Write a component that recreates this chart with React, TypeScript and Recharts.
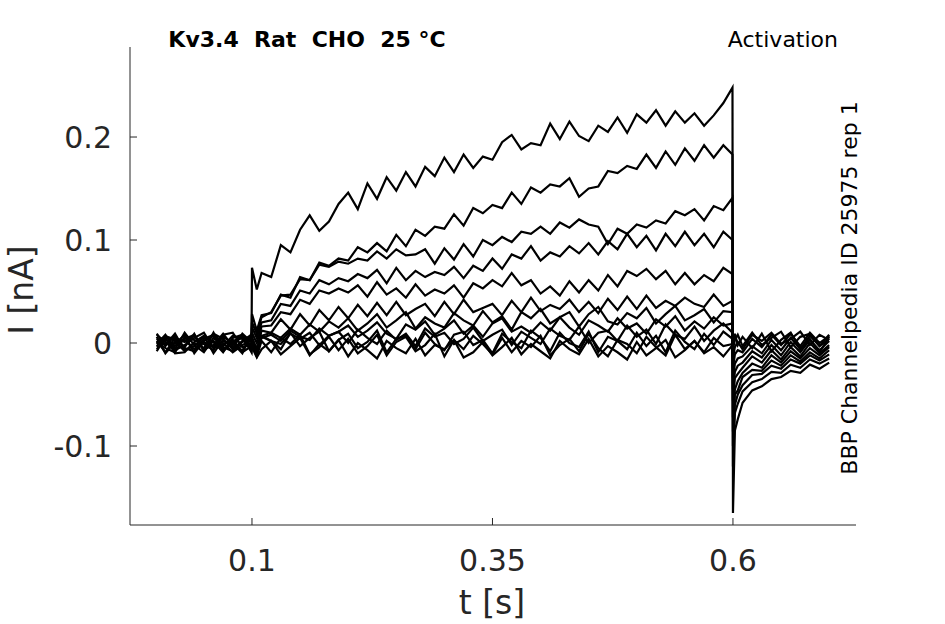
import { LineChart, Line, XAxis, YAxis, Customized } from "recharts"

// time points (s)
const times = [
  0.001, 0.01, 0.02, 0.03, 0.04, 0.05, 0.06, 0.07, 0.08, 0.09, 0.0995,
  0.1, 0.105, 0.11, 0.12, 0.13, 0.14, 0.15, 0.16, 0.17, 0.18, 0.19,
  0.2, 0.21, 0.22, 0.23, 0.24, 0.25, 0.26, 0.27, 0.28, 0.29,
  0.3, 0.31, 0.32, 0.33, 0.34, 0.35, 0.36, 0.37, 0.38, 0.39,
  0.4, 0.41, 0.42, 0.43, 0.44, 0.45, 0.46, 0.47, 0.48, 0.49,
  0.5, 0.51, 0.52, 0.53, 0.54, 0.55, 0.56, 0.57, 0.58, 0.59, 0.5995,
  0.6, 0.602, 0.605, 0.61, 0.62, 0.63, 0.64, 0.65, 0.66, 0.67, 0.68, 0.69, 0.7,
]

// sweeps, current in pA
const sweepA = [
  4, -2, 9, -7, -3, 6, 1, -9, 5, 8, -4,
  73, 52, 68, 64, 95, 88, 110, 124, 109, 118, 135,
  146, 130, 155, 140, 161, 148, 166, 152, 171, 162,
  180, 166, 183, 170, 181, 178, 195, 202, 188, 194,
  192, 213, 198, 215, 201, 196, 211, 205, 219, 204,
  222, 214, 226, 211, 225, 214, 223, 211, 221, 233, 248,
  -165, -85, -74, -58, -46, -42, -35, -33, -27, -29, -21, -25, -19,
]
const sweepB = [
  -6, 3, -1, 8, -10, 2, 7, -4, -8, 1, 6,
  28, 12, 27, 29, 47, 44, 64, 61, 78, 75, 82,
  80, 93, 88, 97, 89, 105, 94, 110, 104, 113,
  111, 125, 114, 131, 126, 134, 131, 146, 135, 151,
  146, 154, 152, 160, 142, 150, 152, 167, 165, 172,
  169, 183, 170, 186, 173, 189, 177, 192, 180, 192, 183,
  -120, -68, -59, -47, -38, -35, -28, -29, -21, -24, -16, -20, -15,
]
const sweepC = [
  2, -9, 5, 1, 7, -6, -2, 9, -3, -7, 4,
  20, 9, 25, 30, 46, 47, 62, 61, 76, 74, 79,
  77, 82, 80, 89, 82, 91, 85, 86, 91, 77,
  92, 81, 96, 84, 100, 95, 103, 98, 108, 106,
  113, 106, 117, 112, 120, 115, 113, 96, 111, 106,
  115, 112, 119, 116, 128, 124, 130, 119, 133, 129, 141,
  -100, -60, -50, -41, -31, -30, -22, -25, -16, -20, -12, -17, -11,
]
const sweepD = [
  8, 1, -7, -2, 5, 10, -5, -1, 3, -9, -3,
  15, 5, 20, 22, 38, 36, 51, 48, 61, 57, 63,
  60, 67, 63, 71, 58, 73, 61, 70, 64, 69,
  66, 74, 63, 75, 70, 82, 72, 86, 82, 94,
  80, 88, 84, 94, 87, 97, 86, 99, 91, 106,
  93, 104, 90, 106, 94, 108, 95, 106, 93, 108, 100,
  -86, -50, -46, -33, -26, -27, -17, -22, -12, -18, -9, -15, -7,
]
const sweepE = [
  -3, 7, 2, -8, 0, -5, 9, 4, -6, 2, 8,
  10, 0, 16, 17, 30, 28, 42, 38, 51, 48, 53,
  49, 56, 45, 59, 47, 53, 44, 57, 46, 52,
  48, 56, 44, 58, 53, 61, 55, 68, 56, 61,
  48, 55, 46, 60, 49, 61, 51, 66, 55, 70,
  65, 72, 62, 70, 57, 68, 57, 66, 60, 73, 67,
  -72, -45, -37, -29, -20, -24, -12, -19, -8, -15, -5, -12, -4,
]
const sweepF = [
  1, -5, -9, 6, 3, -1, -7, 8, 10, -4, -1,
  6, -6, 12, 10, 23, 13, 28, 17, 32, 22, 35,
  24, 37, 26, 39, 27, 40, 27, 33, 38, 26,
  40, 28, 42, 30, 34, 38, 27, 41, 30, 44,
  31, 37, 33, 42, 30, 40, 29, 43, 32, 45,
  33, 46, 34, 41, 36, 44, 38, 35, 47, 36, 41,
  -56, -34, -30, -24, -13, -19, -7, -16, -4, -13, 0, -10, -2,
]
const sweepG = [
  -8, 6, 4, -4, 9, -8, 2, -6, -1, 7, -9,
  4, -8, 7, 10, 5, 14, 8, 18, 11, 21, 15,
  24, 12, 19, 28, 15, 22, 30, 14, 25, 19,
  15, 29, 22, 17, 31, 20, 26, 13, 30, 24,
  33, 19, 25, 30, 16, 28, 35, 21, 18, 29,
  24, 34, 19, 28, 36, 22, 27, 33, 20, 31, 30,
  -45, -28, -22, -19, -8, -14, -2, -12, 1, -9, 3, -7, 2,
]
const sweepH = [
  6, -10, 1, 3, -6, 4, 8, 0, -9, -2, 3,
  2, -9, 5, 8, 2, 12, 6, 3, 14, 7, 11,
  17, 6, 12, 20, 9, 4, 18, 13, 21, 8,
  14, 22, 9, 17, 6, 19, 24, 11, 16, 10,
  20, 12, 25, 15, 8, 22, 17, 11, 24, 14,
  19, 9, 23, 16, 26, 12, 21, 14, 25, 17, 19,
  -34, -20, -15, -13, -3, -10, 3, -7, 5, -6, 7, -3, 4,
]
const sweepI = [
  -1, 8, -6, 10, -2, -9, 5, -3, 7, 4, -6,
  1, -10, 6, 2, -1, 9, 4, 10, -2, 7, 11,
  0, 13, 5, -1, 12, 3, 9, -3, 14, 6,
  10, -1, 4, 15, 2, 8, 13, -2, 11, 5,
  -1, 14, 7, 3, 16, 0, 10, 12, 2, 17,
  6, 13, -1, 18, 8, 4, 16, 2, 12, 19, 10,
  -24, -11, -7, -9, 4, -4, 8, -2, 9, -3, 10, 0, 7,
]
const sweepJ = [
  9, -3, 7, -5, -8, 1, -4, 6, 0, -10, 9,
  0, -11, 7, 2, -6, 10, -3, 5, 11, -8, 3,
  9, -5, 1, 12, -9, 4, 7, -6, 10, -1,
  -7, 8, 11, -2, 3, -10, 9, 1, -5, 12,
  5, -8, 10, 0, -4, 11, -9, 6, 2, -6,
  10, -3, 7, -9, 12, 1, -6, 9, -2, 11, 4,
  -14, -4, 1, -6, 8, 2, 10, -1, 4, 11, -2, 8, 3,
]
const sweepK = [
  -4, 0, -3, 4, 8, -7, 10, -8, 2, 5, -8,
  -2, -13, 2, -9, 5, -1, 8, -11, -4, 6, -7,
  4, -10, -3, 8, -12, 1, 6, -8, -2, 9,
  -13, 3, -6, 7, -1, -11, 5, -9, 2, -4,
  7, -12, -2, 4, -8, 9, -5, -13, 3, -1,
  -10, 6, -4, -12, 8, -6, 2, -9, 5, -3, -1,
  -6, 3, 8, -3, 10, -2, 5, 11, -4, 6, 9, -3, 8,
]
const sweepL = [
  3, 5, -10, -9, 1, 7, -10, 3, -5, 9, 1,
  -4, -14, -6, 2, -11, -3, 5, -12, -1, -8, 3,
  -13, 0, -7, -15, 2, -5, -10, 4, -12, -2,
  -6, 3, -14, -9, 1, -12, -4, 5, -11, -1,
  -8, -15, 2, -6, -11, 4, -13, -3, -9, -16,
  1, -12, -5, 3, -14, -7, 2, -10, -4, -13, -2,
  0, 9, -2, 6, -5, 9, -8, 3, 10, -6, 4, -9, 6,
]

const sweeps = [sweepA, sweepB, sweepC, sweepD, sweepE, sweepF, sweepG, sweepH, sweepI, sweepJ, sweepK, sweepL]
const xTicks = [0.1, 0.35, 0.6]
const yTicks = [-0.1, 0, 0.1, 0.2]

const data = times.map((t, i) => {
  const row: any = { t }
  sweeps.forEach((s, k) => {
    row["s" + k] = s[i] / 1000
  })
  return row
})

const FONT = "DejaVu Sans"
const AXIS = "#262626"

const Labels = () => (
  <g fontFamily={FONT}>
    <text x={307} y={47} fontSize={22} fontWeight="bold" textAnchor="middle" fill="#000" style={{ whiteSpace: "pre" }}>
      {"Kv3.4  Rat  CHO  25 °C"}
    </text>
    <text x={838} y={47} fontSize={22} textAnchor="end" fill="#000">
      Activation
    </text>
    <text x={857} y={288} fontSize={22} textAnchor="middle" fill="#000" transform="rotate(-90 857 288)">
      BBP Channelpedia ID 25975 rep 1
    </text>
    <text x={492} y={614} fontSize={33} textAnchor="middle" fill={AXIS}>
      t [s]
    </text>
    <text x={33} y={290} fontSize={33} textAnchor="middle" fill={AXIS} transform="rotate(-90 33 290)">
      I [nA]
    </text>
  </g>
)

export default function App() {
  return (
    <div style={{ position: "absolute", left: 0, top: 0, width: 945, height: 624, background: "#fff" }}>
      <LineChart width={945} height={624} data={data} margin={{ top: 47, right: 89, bottom: 0, left: 0 }}>
        <XAxis
          dataKey="t"
          type="number"
          domain={[-0.0268, 0.7279]}
          allowDataOverflow
          ticks={xTicks}
          tickFormatter={(v) => String(v)}
          height={99}
          tickSize={-7}
          tickMargin={32}
          stroke={AXIS}
          tick={{ fill: AXIS, fontSize: 30, fontFamily: FONT }}
        />
        <YAxis
          type="number"
          domain={[-0.1767, 0.2874]}
          allowDataOverflow
          ticks={yTicks}
          tickFormatter={(v) => String(v)}
          width={130}
          tickSize={-7}
          tickMargin={25}
          stroke={AXIS}
          tick={{ fill: AXIS, fontSize: 30, fontFamily: FONT }}
        />
        {sweeps.map((_, k) => (
          <Line
            key={k}
            type="linear"
            dataKey={"s" + k}
            stroke="#000"
            strokeWidth={2.2}
            dot={false}
            isAnimationActive={false}
          />
        ))}
        <Customized component={Labels} />
      </LineChart>
    </div>
  )
}
